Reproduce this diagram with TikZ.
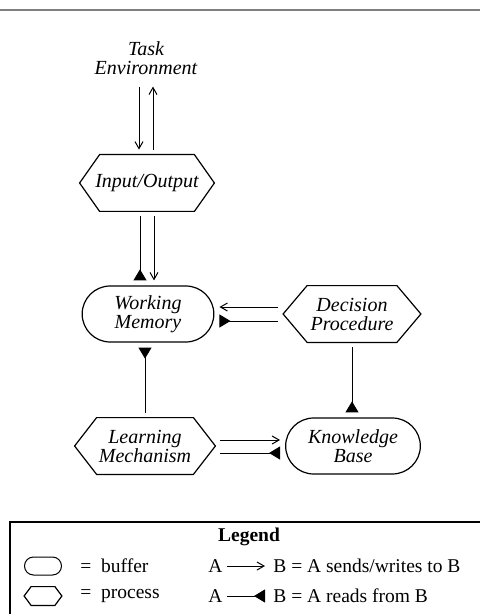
\documentclass[tikz,border=0pt]{standalone}
\usepackage{fontspec}
\setmainfont{Liberation Serif}
\usetikzlibrary{shapes.misc,arrows.meta}
\newcommand{\hexframe}[2]{\draw[line width=0.6pt] (#1.west) -- ([xshift=#2]#1.north west)
  -- ([xshift=-#2]#1.north east) -- (#1.east) -- ([xshift=-#2]#1.south east)
  -- ([xshift=#2]#1.south west) -- cycle;}

\begin{document}
\begin{tikzpicture}[x=0.5pt,y=-0.5pt,
  label/.style={font=\fontsize{10}{9.5}\selectfont\itshape,align=center},
  buffer/.style={rounded rectangle,draw,line width=0.6pt,minimum width=72.5pt,
                 minimum height=28pt,label},
  process/.style={rectangle,inner sep=0pt,minimum width=67pt,minimum height=28pt,
                  label},
  sends/.style={-{Straight Barb[length=3.5pt,width=4pt]},line width=0.5pt,
                shorten <=2.5pt,shorten >=2.5pt},
  reads/.style={-{Triangle[reversed,length=5.5pt,width=6.5pt]},line width=0.5pt,
                shorten <=2.5pt,shorten >=2.5pt},
  lgd/.style={font=\fontsize{9.75}{11}\selectfont,inner sep=0pt}
]
  \useasboundingbox (0,0) rectangle (480,614);
  \draw[line width=1pt,gray] (0,10) -- (480,10);

  \node[label] (env) at (146,58) {Task\\Environment};
  \node[process] (io) at (147,183) {Input/Output};
  \node[buffer] (wm) at (148,314) {Working\\Memory};
  \node[process,minimum width=68.5pt] (dp) at (352,314) {Decision\\Procedure};
  \node[process,minimum width=70pt] (lm) at (145,446) {Learning\\Mechanism};
  \node[buffer,minimum width=74pt] (kb) at (353,446) {Knowledge\\Base};
  \hexframe{io}{10pt}
  \hexframe{dp}{12pt}
  \hexframe{lm}{11pt}

  \draw[sends] ([xshift=-3.5pt]env.south) -- ([xshift=-3.5pt]env.south |- io.north);
  \draw[sends] ([xshift=3.5pt]env.south |- io.north) -- ([xshift=3.5pt]env.south);
  \draw[reads] ([xshift=-3.5pt]io.south) -- ([xshift=-3.5pt]io.south |- wm.north);
  \draw[sends] ([xshift=3.5pt]io.south) -- ([xshift=3.5pt]io.south |- wm.north);
  \draw[sends] ([yshift=3.5pt]dp.west) -- ([yshift=3.5pt]wm.east);
  \draw[reads] ([yshift=-3.5pt]dp.west) -- ([yshift=-3.5pt]wm.east);
  \draw[reads] (lm.north) -- (lm.north |- wm.south);
  \draw[reads] (dp.south) -- (dp.south |- kb.north);
  \draw[sends] ([yshift=3pt]lm.east) -- ([yshift=3pt]lm.east -| kb.west);
  \draw[reads] ([yshift=-3.5pt]lm.east) -- ([yshift=-3.5pt]lm.east -| kb.west);

  % legend
  \draw[line width=0.6pt] (480,522) -- (10,522) -- (10,614);
  \node[lgd,font=\fontsize{9.75}{11}\selectfont\bfseries] (lgdtitle) at (249,537) {Legend};
  \node[buffer,minimum width=18.5pt,minimum height=9pt,inner sep=0pt,
        line width=0.5pt] (kbuf) at (43,566) {};
  \node[lgd,anchor=west] (tbuf) at (80,566) {=\ \ buffer};
  \node[process,minimum width=18.5pt,minimum height=9pt] (kproc) at (43,596) {};
  \hexframe{kproc}{3.5pt}
  \node[lgd,anchor=west] (tproc) at (80,596) {=\ \ process};
  \node[lgd,anchor=west] (sa) at (208,566) {A};
  \node[lgd,anchor=west] (sb) at (273,566) {B = A sends/writes to B};
  \draw[sends,shorten <=2pt,shorten >=4pt] (sa.east) -- (sb.west);
  \node[lgd,anchor=west] (ra) at (208,596) {A};
  \node[lgd,anchor=west] (rb) at (273,596) {B = A reads from B};
  \draw[reads,shorten <=2pt,shorten >=4pt] (ra.east) -- (rb.west);
\end{tikzpicture}
\end{document}
